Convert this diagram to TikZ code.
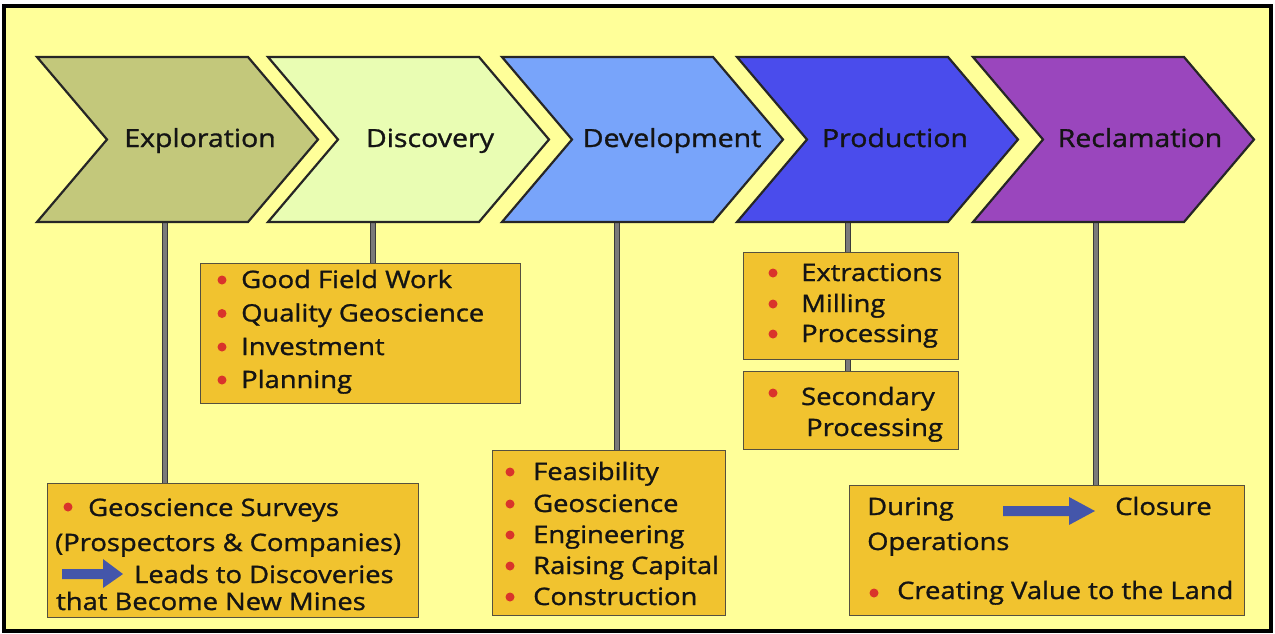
\documentclass[tikz,border=0pt]{standalone}
\usepackage{fontspec}
\setmainfont{Open Sans}[FakeStretch=1.14, FakeBold=1.2]
\usetikzlibrary{calc}
\definecolor{bgy}{HTML}{FFFF99}
\definecolor{cexpl}{HTML}{C3C87B}
\definecolor{cdisc}{HTML}{E9FDB3}
\definecolor{cdev}{HTML}{78A4FA}
\definecolor{cprod}{HTML}{4A4CEC}
\definecolor{crecl}{HTML}{9A46BD}
\definecolor{chevline}{HTML}{262626}
\definecolor{boxfill}{HTML}{F1C32F}
\definecolor{boxline}{HTML}{55503F}
\definecolor{bulletred}{HTML}{D9342B}
\definecolor{arrowblue}{HTML}{4456AA}
\definecolor{txtcol}{HTML}{141414}
\definecolor{stemgray}{HTML}{7A7A7A}
\definecolor{stemdark}{HTML}{3A3A3A}
\pgfdeclarelayer{bglayer}
\pgfdeclarelayer{stemlayer}
\pgfsetlayers{bglayer,stemlayer,main}
\begin{document}
\begin{tikzpicture}[x=1pt,y=-1pt,
  chev/.style={draw=chevline, line width=2.2pt, line join=miter},
  box/.style={draw=boxline, fill=boxfill, line width=1.3pt, inner sep=0pt, anchor=north west},
  txt/.style={anchor=base west, inner sep=0pt, font=\fontsize{24}{28}\selectfont, text=txtcol},
  ttl/.style={anchor=base, inner sep=0pt, font=\fontsize{25}{29}\selectfont, text=txtcol},
  stem/.style={draw=stemdark, line width=1.4pt, double=stemgray, double distance=4pt},
  dot/.style={fill=bulletred},
  blarrow/.style={fill=arrowblue}]
\useasboundingbox (0,0) rectangle (1275,633);
\begin{pgfonlayer}{bglayer}
\fill[white] (0,0) rectangle (1275,633);
\draw[fill=bgy, draw=black, line width=4pt] (3.5,6) rectangle (1270.5,631);
\end{pgfonlayer}

% chevrons
\def\chevron#1#2{\filldraw[chev, fill=#2] (#1,57) -- ++(211,0) -- ++(70,82.5) -- ++(-70,82.5) -- ++(-211,0) -- ++(70,-82.5) -- cycle;}
\chevron{37}{cexpl}
\chevron{268}{cdisc}
\chevron{502}{cdev}
\chevron{737}{cprod}
\chevron{973}{crecl}

\node[ttl] (expl) at (200,147) {Exploration};
\node[ttl] (disc) at (430,147) {Discovery};
\node[ttl] (dev) at (672,147) {Development};
\node[ttl] (prod) at (895,147) {Production};
\node[ttl] (recl) at (1140,147) {Reclamation};

\coordinate (eb) at (165,222);
\coordinate (db) at (373,222);
\coordinate (vb) at (617,222);
\coordinate (pb) at (848,222);
\coordinate (rb) at (1096,222);

% boxes
\node[box, minimum width=371pt, minimum height=134pt] (ebox) at (47,483) {};
\node[box, minimum width=320pt, minimum height=140pt] (dbox) at (200,263) {};
\node[box, minimum width=233pt, minimum height=165pt] (vbox) at (492,450) {};
\node[box, minimum width=215pt, minimum height=107pt] (pboxa) at (743,252) {};
\node[box, minimum width=215pt, minimum height=78pt] (pboxb) at (743,371) {};
\node[box, minimum width=395pt, minimum height=130pt] (rbox) at (849,485) {};

% stems
\begin{pgfonlayer}{stemlayer}
\draw[stem] (eb) -- (eb |- ebox.north);
\draw[stem] (db) -- (db |- dbox.north);
\draw[stem] (vb) -- (vb |- vbox.north);
\draw[stem] (pb) -- (pb |- pboxa.north);
\draw[stem] (pb |- pboxa.south) -- (pb |- pboxb.north);
\draw[stem] (rb) -- (rb |- rbox.north);
\end{pgfonlayer}

% Exploration box text
\fill[dot] (68,507) circle[radius=4.5pt];
\node[txt] (e1) at (88,516) {Geoscience Surveys};
\node[txt] (e2) at (55,551) {(Prospectors \& Companies)};
\fill[blarrow] (62,569) -- (103,569) -- (103,559) -- (123,574) -- (103,588) -- (103,579) -- (62,579) -- cycle;
\node[txt] (e3) at (134,583) {Leads to Discoveries};
\node[txt] (e4) at (56,610) {that Become New Mines};

% Discovery box text
\foreach \y/\t [count=\i] in {288/Good Field Work, 321.5/Quality Geoscience, 355/Investment, 388/Planning}{
  \fill[dot] (222,\y-8) circle[radius=4.5pt];
  \node[txt] (d\i) at (241,\y) {\t};
}

% Development box text
\foreach \y/\t [count=\i] in {480/Feasibility, 512/Geoscience, 543/Engineering, 574/Raising Capital, 605/Construction}{
  \fill[dot] (510,\y-8) circle[radius=4.5pt];
  \node[txt] (v\i) at (533,\y) {\t};
}

% Production box text
\foreach \y/\t [count=\i] in {281/Extractions, 312/Milling, 342/Processing}{
  \fill[dot] (773,\y-8) circle[radius=4.5pt];
  \node[txt] (p\i) at (801,\y) {\t};
}
\fill[dot] (773,393) circle[radius=4.5pt];
\node[txt] (p4) at (801,405) {Secondary};
\node[txt] (p5) at (806,436) {Processing};

% Reclamation box text
\node[txt] (r1) at (867,515) {During};
\fill[blarrow] (1003,506) -- (1069,506) -- (1069,497) -- (1095,511) -- (1069,525) -- (1069,516) -- (1003,516) -- cycle;
\node[txt] (r2) at (1115,515) {Closure};
\node[txt] (r3) at (867,550) {Operations};
\fill[dot] (874,593) circle[radius=4.5pt];
\node[txt] (r4) at (897,599) {Creating Value to the Land};
\end{tikzpicture}
\end{document}
